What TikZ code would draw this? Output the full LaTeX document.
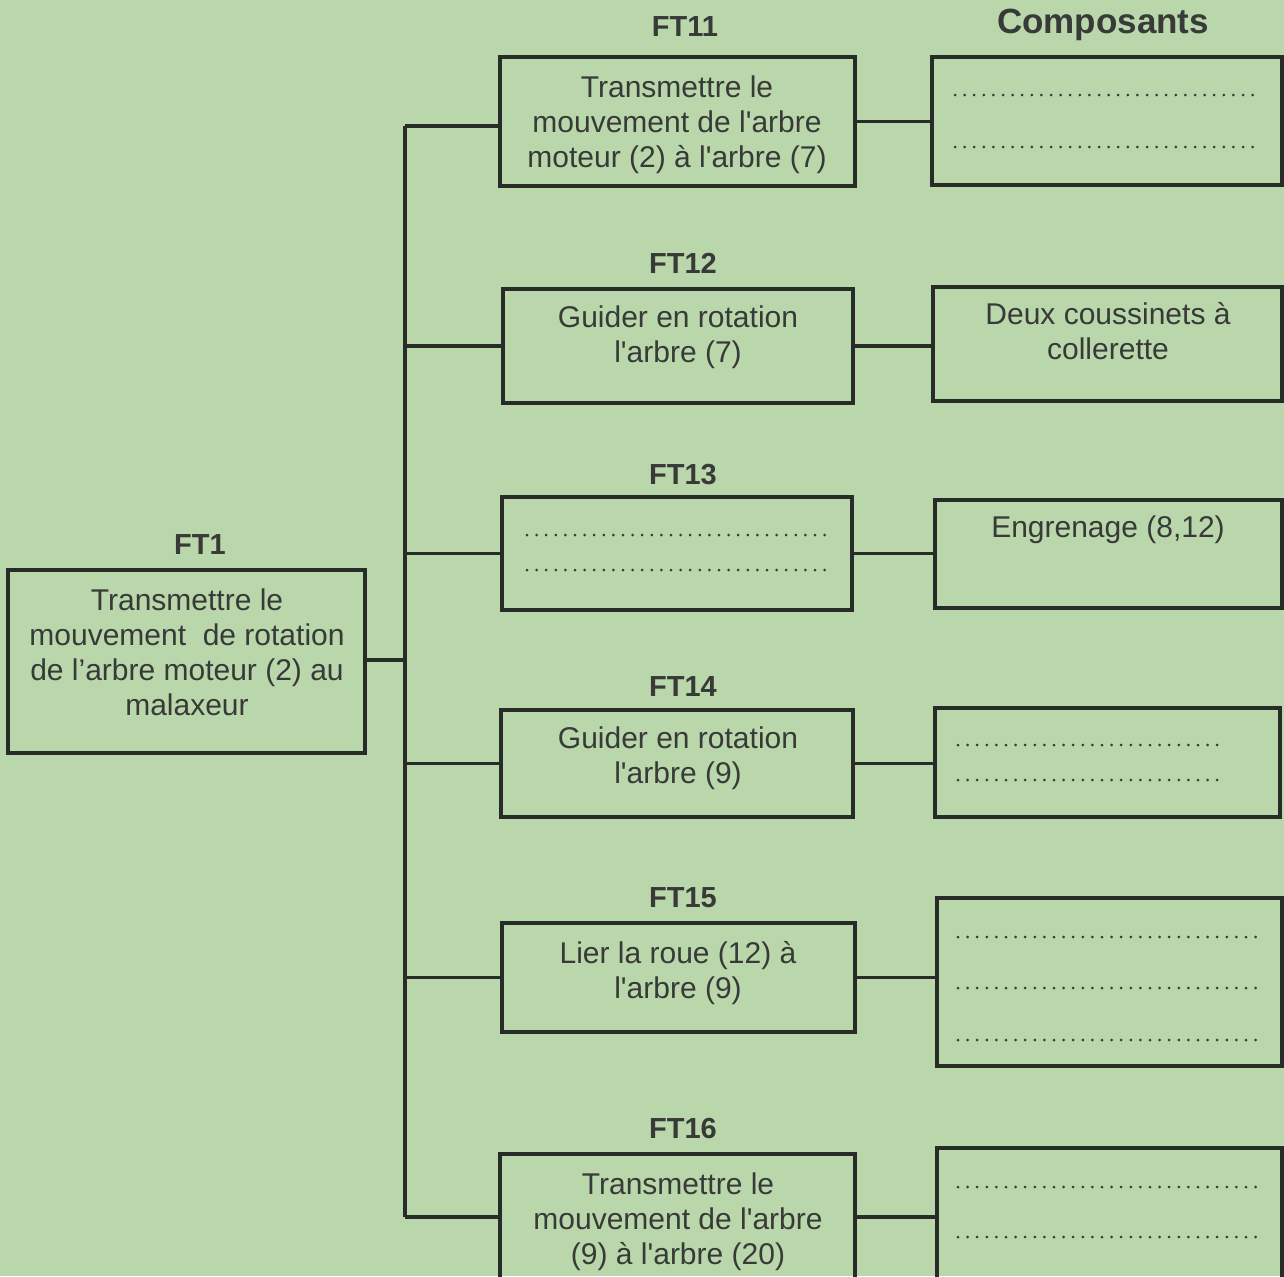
\documentclass[tikz,border=0pt]{standalone}
\usepackage{fontspec}
\setmainfont{Liberation Sans}[Ligatures=TeXOff]
\definecolor{bg}{RGB}{186,215,172}
\definecolor{ln}{RGB}{40,44,40}
\definecolor{tx}{RGB}{55,58,55}
\newcommand\mybox[5]{%
  \node[boxst, minimum width={(#4-#2)*0.5pt}, minimum height={(#5-#3)*0.5pt}] (#1) at ({(#2+#4)/2},{(#3+#5)/2}) {};}
\newcommand\dotln[3]{\draw[dotst] (#1,#3) -- (#2,#3);}
\begin{document}
\begin{tikzpicture}[x=0.5pt,y=-0.5pt,
  boxst/.style={draw=ln, line width=2pt, rectangle, inner sep=0pt},
  conn/.style={draw=ln, line width=1.6pt},
  dotst/.style={draw=tx, line width=1.5pt, line cap=round, dash pattern=on 0pt off 4.8pt},
  txt/.style={text=tx, align=center, font=\fontsize{15}{17.5}\selectfont, inner sep=0pt},
  lbl/.style={text=tx, font=\bfseries\fontsize{14.5}{16}\selectfont, inner sep=0pt},
  hdr/.style={text=tx, font=\bfseries\fontsize{17.5}{20}\selectfont, inner sep=0pt}]
\useasboundingbox (0,0) rectangle (1284,1276);
\clip (0,0) rectangle (1284,1276);
\fill[bg] (0,0) rectangle (1284,1276);

% boxes
\mybox{ft1}{8}{570}{365}{753}
\mybox{ft11}{500}{57}{855}{186}
\mybox{ft12}{503}{289}{853}{403}
\mybox{ft13}{502}{497}{852}{610}
\mybox{ft14}{501}{710}{853}{817}
\mybox{ft15}{502}{923}{855}{1032}
\mybox{ft16}{500}{1154}{855}{1296}
\mybox{c11}{932}{57}{1282}{185}
\mybox{c12}{933}{287}{1282}{401}
\mybox{c13}{935}{500}{1282}{608}
\mybox{c14}{935}{708}{1280}{817}
\mybox{c15}{937}{898}{1282}{1066}
\mybox{c16}{937}{1148}{1282}{1296}

% labels
\node[lbl] (l1) at (200,545) {FT1};
\node[lbl] (l11) at (685,27) {FT11};
\node[lbl] (l12) at (683,263) {FT12};
\node[lbl] (l13) at (683,475) {FT13};
\node[lbl] (l14) at (683,687) {FT14};
\node[lbl] (l15) at (683,898) {FT15};
\node[lbl] (l16) at (683,1128) {FT16};
\node[hdr] (hc) at (1103,25) {Composants};

% texts
\node[txt] (t1) at (187,652) {Transmettre le\\mouvement\ \ de rotation\\de l’arbre moteur (2) au\\malaxeur};
\node[txt] (t11) at (677,125) {Transmettre le\\mouvement de l'arbre\\moteur (2) à l'arbre (7)};
\node[txt] (t12) at (678,337) {Guider en rotation\\l'arbre (7)};
\node[txt] (t14) at (678,758) {Guider en rotation\\l'arbre (9)};
\node[txt] (t15) at (678,973) {Lier la roue (12) à\\l'arbre (9)};
\node[txt] (t16) at (678,1222) {Transmettre le\\mouvement de l'arbre\\(9) à l'arbre (20)};
\node[txt] (tc12) at (1108,331) {Deux coussinets à\\collerette};
\node[txt] (tc13) at (1108,530) {Engrenage (8,12)};

% dotted answer lines
\dotln{955}{1253}{95}
\dotln{955}{1253}{147}
\dotln{527}{826}{535}
\dotln{527}{826}{570}
\dotln{958}{1225}{745}
\dotln{958}{1225}{780}
\dotln{958}{1256}{937}
\dotln{958}{1256}{988}
\dotln{958}{1256}{1040}
\dotln{958}{1256}{1187}
\dotln{958}{1256}{1237}

% connectors
\coordinate (bus) at (405,660);
\coordinate (busTop) at (405,126);
\coordinate (busBot) at (405,1217);
\draw[conn] (busTop) -- (busBot);
\draw[conn] (ft1.east |- bus) -- (bus);
\draw[conn] (busTop) -- (busTop -| ft11.west);
\draw[conn] (ft12.west) -- (ft12.west -| bus);
\draw[conn] (ft13.west) -- (ft13.west -| bus);
\draw[conn] (ft14.west) -- (ft14.west -| bus);
\draw[conn] (ft15.west) -- (ft15.west -| bus);
\draw[conn] (busBot) -- (busBot -| ft16.west);
\draw[conn] (ft11.east) -- (ft11.east -| c11.west);
\draw[conn] (ft12.east) -- (ft12.east -| c12.west);
\draw[conn] (ft13.east) -- (ft13.east -| c13.west);
\draw[conn] (ft14.east) -- (ft14.east -| c14.west);
\draw[conn] (ft15.east) -- (ft15.east -| c15.west);
\draw[conn] (busBot -| ft16.east) -- (busBot -| c16.west);
\end{tikzpicture}
\end{document}
